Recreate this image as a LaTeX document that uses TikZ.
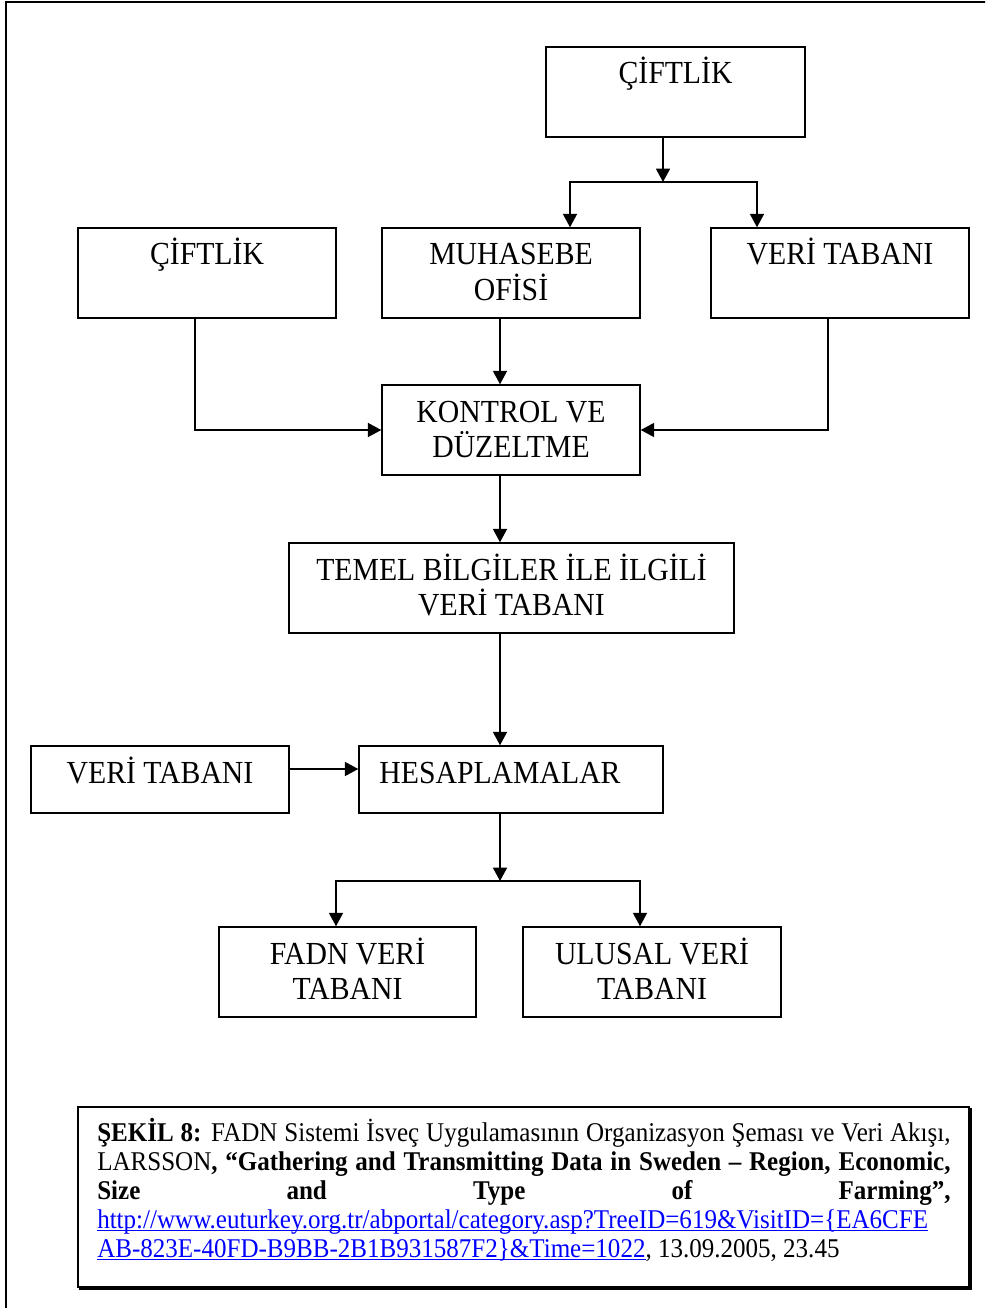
\documentclass[tikz,border=0pt]{standalone}
\usepackage{fontspec}
\setmainfont{Liberation Serif}[FakeStretch=0.925]
\usetikzlibrary{arrows.meta}
\definecolor{linkblue}{RGB}{0,0,255}

% underline that sits just below the baseline, crossing the descenders
\newcommand\linkul[1]{\setbox0\hbox{#1}\rlap{\rule[-2.4pt]{\wd0}{0.75pt}}\box0}

\tikzset{
  box/.style={draw, line width=1.1pt, rectangle, inner sep=0pt},
  sz/.style n args={2}{minimum width=#1*0.75pt, minimum height=#2*0.75pt},
  lbl/.style={inner sep=0pt, font=\fontsize{24.1}{26.7}\selectfont, anchor=base},
  tip/.style={Triangle[length=10pt,width=10.5pt]},
  arr/.style={line width=1.1pt, -{Triangle[length=10pt,width=10.5pt]}},
  biarr/.style={line width=1.1pt, {Triangle[length=10pt,width=10.5pt]}-{Triangle[length=10pt,width=10.5pt]}},
}

\begin{document}
\begin{tikzpicture}[x=0.75pt,y=-0.75pt]
\useasboundingbox (0,0) rectangle (985,1308);
\clip (0,0) rectangle (985,1308);

% page frame
\draw[line width=1.2pt] (6,1330) -- (6,2) -- (1000,2);

% boxes
\node[box, sz={259}{90}] (farmA) at (675.5,92) {};
\node[box, sz={258}{90}] (farmB) at (207,273) {};
\node[box, sz={258}{90}] (office) at (511,273) {};
\node[box, sz={258}{90}] (dbA) at (840,273) {};
\node[box, sz={258}{90}] (check) at (511,430) {};
\node[box, sz={445}{90}] (basic) at (511.5,588) {};
\node[box, sz={258}{67}] (dbB) at (160,779.5) {};
\node[box, sz={304}{67}] (calc) at (511,779.5) {};
\node[box, sz={257}{90}] (fadn) at (347.5,972) {};
\node[box, sz={258}{90}] (natl) at (652,972) {};

% box texts
\node[lbl] (farmAt) at ([yshift=-28.3pt]farmA.north) {ÇİFTLİK};
\node[lbl] (farmBt) at ([yshift=-28.3pt]farmB.north) {ÇİFTLİK};
\node[lbl] (officet) at ([yshift=-28.3pt]office.north) {\parbox[t]{400pt}{\centering MUHASEBE\\OFİSİ}};
\node[lbl] (dbAt) at ([yshift=-28.3pt]dbA.north) {VERİ TABANI};
\node[lbl] (checkt) at ([yshift=-28.3pt]check.north) {\parbox[t]{400pt}{\centering KONTROL VE\\DÜZELTME}};
\node[lbl] (basict) at ([yshift=-28.3pt]basic.north) {\parbox[t]{400pt}{\centering TEMEL BİLGİLER İLE İLGİLİ\\VERİ TABANI}};
\node[lbl] (dbBt) at ([yshift=-28.3pt]dbB.north) {VERİ TABANI};
\node[lbl] (calct) at ([yshift=-28.3pt]calc.north -| 500,0) {HESAPLAMALAR};
\node[lbl] (fadnt) at ([yshift=-28.3pt]fadn.north) {\parbox[t]{400pt}{\centering FADN VERİ\\TABANI}};
\node[lbl] (natlt) at ([yshift=-28.3pt]natl.north) {\parbox[t]{400pt}{\centering ULUSAL VERİ\\TABANI}};

% junction points
\coordinate (j1) at (663,182);
\coordinate (ja) at (570,182);
\coordinate (jb) at (757,182);
\coordinate (mx) at (500,0);
\coordinate (ay) at (0,769);
\coordinate (jc) at (500,881);
\coordinate (jl) at (336,881);
\coordinate (jr) at (640,881);

% connectors
\draw[arr] (j1 |- farmA.south) -- (j1);
\draw[biarr] (ja |- office.north) -- (ja) -- (jb) -- (jb |- dbA.north);
\draw[arr] ([xshift=-9pt]farmB.south) |- (check.west);
\draw[arr] ([xshift=-9pt]dbA.south) |- (check.east);
\draw[arr] (mx |- office.south) -- (mx |- check.north);
\draw[arr] (mx |- check.south) -- (mx |- basic.north);
\draw[arr] (mx |- basic.south) -- (mx |- calc.north);
\draw[arr] (dbB.east |- ay) -- (calc.west |- ay);
\draw[arr] (mx |- calc.south) -- (jc);
\draw[biarr] (jl |- fadn.north) -- (jl) -- (jr) -- (jr |- natl.north);

% caption box with shadow on the lower right
\node[draw, line width=0.8pt, fill=white, inner sep=0pt, sz={891}{180}] (cap) at (523.5,1197) {};
\draw[line width=1pt] ([shift={(1pt,-1.1pt)}]cap.south west) -- ([shift={(1.1pt,-1.1pt)}]cap.south east) -- ([shift={(1.1pt,-1pt)}]cap.north east);

\node[anchor=base west, inner sep=0pt, font=\fontsize{20.3}{21.75}\selectfont] (capt) at (97,1141) {\parbox[t]{640pt}{%
\makebox[640pt][s]{\textbf{ŞEKİL 8:} FADN Sistemi İsveç Uygulamasının Organizasyon Şeması ve Veri Akışı,}\\
\makebox[640pt][s]{LARSSON\textbf{, “Gathering and Transmitting Data in Sweden – Region, Economic,}}\\
\makebox[640pt][s]{\textbf{Size and Type of Farming”,}}\\
{\color{linkblue}\linkul{http://www.euturkey.org.tr/abportal/category.asp?TreeID=619\&VisitID=\{EA6CFE}}\\
{\color{linkblue}\linkul{AB-823E-40FD-B9BB-2B1B931587F2\}\&Time=1022}}, 13.09.2005, 23.45}};
\end{tikzpicture}
\end{document}
